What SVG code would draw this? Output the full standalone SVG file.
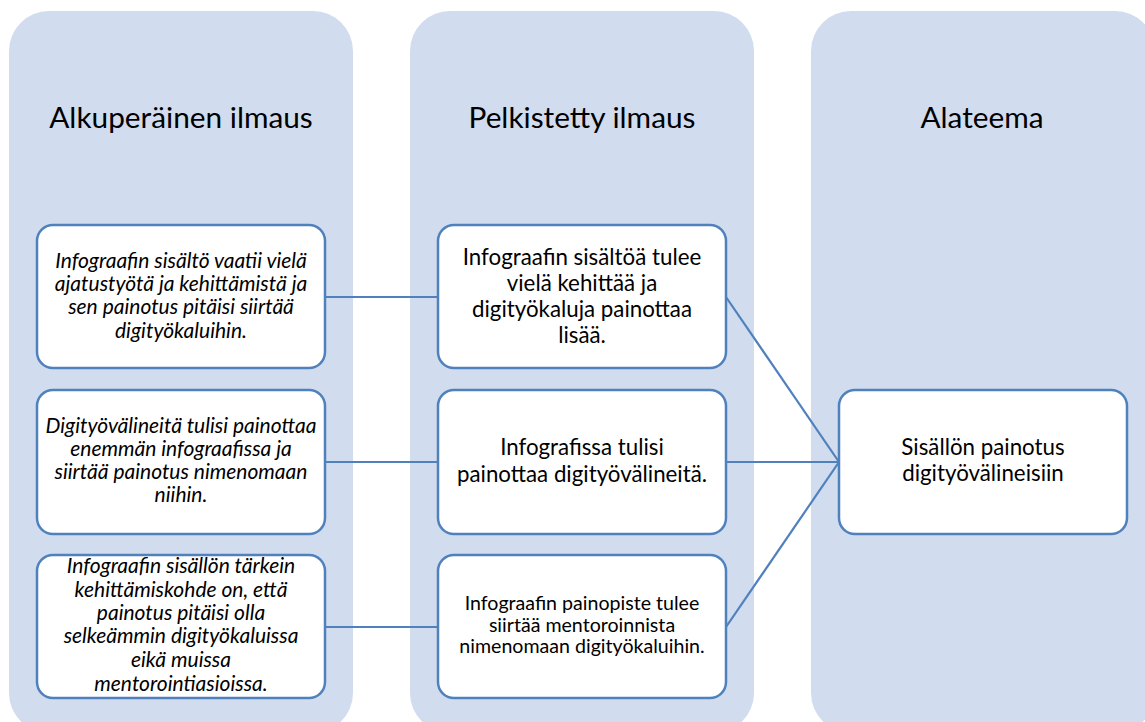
<svg xmlns="http://www.w3.org/2000/svg" width="1145" height="722" viewBox="0 0 1145 722">
<style>
.col{fill:#d1dcee;}
.box{fill:#ffffff;stroke:#4f81bd;stroke-width:2.5;}
.hdr{font-family:Lato,"Liberation Sans",sans-serif;font-size:29.8px;fill:#000;text-anchor:middle;}
.it{font-family:Lato,"Liberation Sans",sans-serif;font-style:italic;font-size:21px;fill:#000;text-anchor:middle;}
.mid{font-family:Lato,"Liberation Sans",sans-serif;font-size:22.3px;fill:#000;text-anchor:middle;}
.sm{font-family:Lato,"Liberation Sans",sans-serif;font-size:19.6px;fill:#000;text-anchor:middle;}
.con{stroke:#4f81bd;stroke-width:2.2;fill:none;}
</style>
<rect width="1145" height="722" fill="#ffffff"/>
<g id="col1"><rect class="col" x="9" y="11" width="344" height="722" rx="40"/><text class="hdr" x="181" y="128">Alkuperäinen ilmaus</text></g>
<g id="col2"><rect class="col" x="410" y="11" width="344" height="722" rx="40"/><text class="hdr" x="582" y="128">Pelkistetty ilmaus</text></g>
<g id="col3"><rect class="col" x="811" y="11" width="344" height="722" rx="40"/><text class="hdr" x="982" y="128">Alateema</text></g>
<g id="connectors">
<line class="con" x1="325" y1="297" x2="438" y2="297"/>
<line class="con" x1="325" y1="462" x2="438" y2="462"/>
<line class="con" x1="325" y1="627" x2="438" y2="627"/>
<line class="con" x1="726" y1="297" x2="839" y2="462"/>
<line class="con" x1="726" y1="462" x2="839" y2="462"/>
<line class="con" x1="726" y1="627" x2="839" y2="462"/>
</g>
<g id="a1"><rect class="box" x="37" y="225" width="288" height="143" rx="16"/>
<text class="it"><tspan x="181" y="268">Infograafin sisältö vaatii vielä</tspan><tspan x="181" y="291">ajatustyötä ja kehittämistä ja</tspan><tspan x="181" y="314">sen painotus pitäisi siirtää</tspan><tspan x="181" y="338">digityökaluihin.</tspan></text></g>
<g id="a2"><rect class="box" x="37" y="390" width="288" height="144" rx="16"/>
<text class="it"><tspan x="181" y="433">Digityövälineitä tulisi painottaa</tspan><tspan x="181" y="456">enemmän infograafissa ja</tspan><tspan x="181" y="479">siirtää painotus nimenomaan</tspan><tspan x="181" y="502">niihin.</tspan></text></g>
<g id="a3"><rect class="box" x="37" y="555" width="288" height="143" rx="16"/>
<text class="it"><tspan x="181" y="573">Infograafin sisällön tärkein</tspan><tspan x="181" y="597">kehittämiskohde on, että</tspan><tspan x="181" y="620">painotus pitäisi olla</tspan><tspan x="181" y="643">selkeämmin digityökaluissa</tspan><tspan x="181" y="667">eikä muissa</tspan><tspan x="181" y="691">mentorointiasioissa.</tspan></text></g>
<g id="b1"><rect class="box" x="438" y="225" width="288" height="143" rx="16"/>
<text class="mid"><tspan x="582" y="265">Infograafin sisältöä tulee</tspan><tspan x="582" y="291">vielä kehittää ja</tspan><tspan x="582" y="317">digityökaluja painottaa</tspan><tspan x="582" y="343">lisää.</tspan></text></g>
<g id="b2"><rect class="box" x="438" y="390" width="288" height="144" rx="16"/>
<text class="mid"><tspan x="582" y="455">Infografissa tulisi</tspan><tspan x="582" y="482">painottaa digityövälineitä.</tspan></text></g>
<g id="b3"><rect class="box" x="438" y="555" width="288" height="143" rx="16"/>
<text class="sm"><tspan x="582" y="610">Infograafin painopiste tulee</tspan><tspan x="582" y="632">siirtää mentoroinnista</tspan><tspan x="582" y="653">nimenomaan digityökaluihin.</tspan></text></g>
<g id="c1"><rect class="box" x="839" y="390" width="288" height="144" rx="16"/>
<text class="mid"><tspan x="983" y="455">Sisällön painotus</tspan><tspan x="983" y="481">digityövälineisiin</tspan></text></g>
</svg>
